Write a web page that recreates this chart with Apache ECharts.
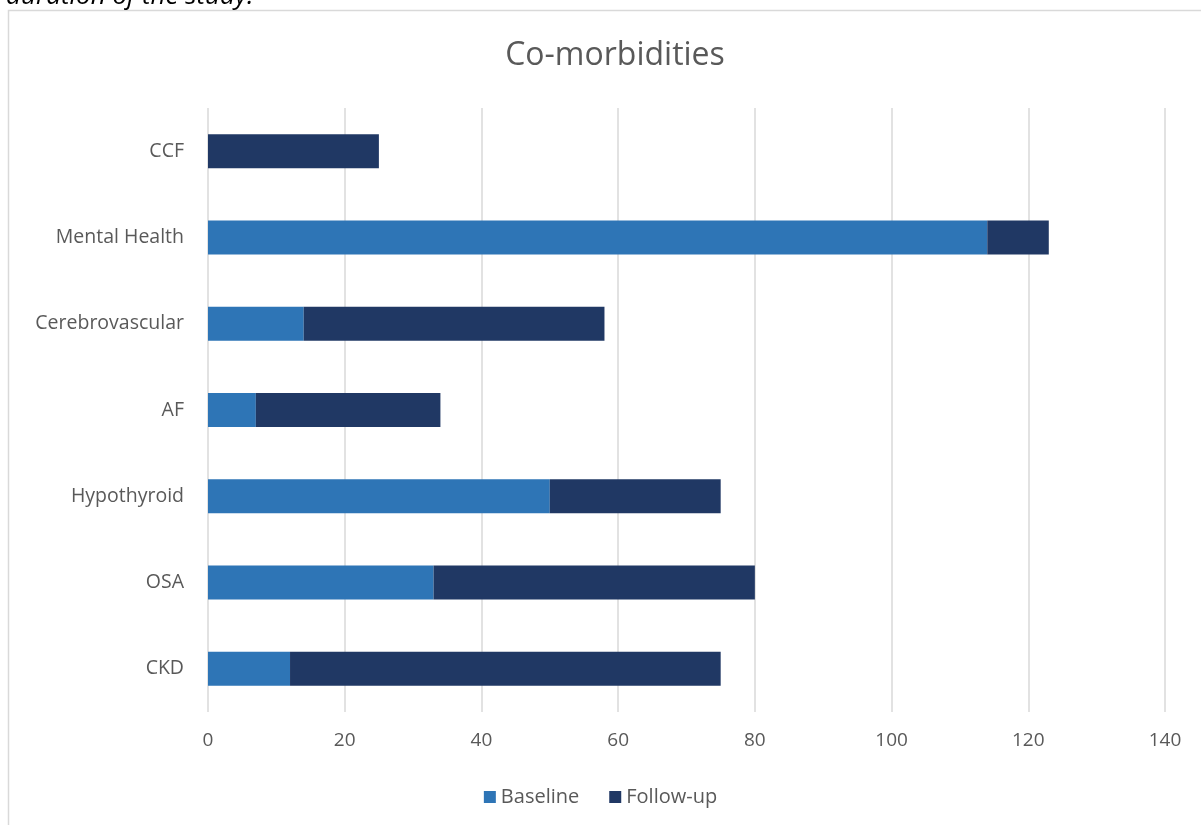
<!DOCTYPE html>
<html>
<head>
<meta charset="utf-8">
<script src="https://cdn.jsdelivr.net/npm/echarts@6/dist/echarts.min.js"></script>
<style>
  html, body { margin: 0; padding: 0; background: #ffffff; }
  #chart { width: 1201px; height: 825px; }
</style>
</head>
<body>
<div id="chart"></div>
<script>
// Co-morbidity counts, listed top to bottom
const categories = ['CCF', 'Mental Health', 'Cerebrovascular', 'AF', 'Hypothyroid', 'OSA', 'CKD'];
const baseline = [0, 114, 14, 7, 50, 33, 12];
const followUp = [25, 9, 44, 27, 25, 47, 63];
const xTicks = [0, 20, 40, 60, 80, 100, 120, 140];

const textColor = '#595959';
const fontFamily = '"Open Sans", "Liberation Sans", sans-serif';

const chart = echarts.init(document.getElementById('chart'));
chart.setOption({
  animation: false,
  backgroundColor: '#ffffff',
  title: {
    text: 'Co-morbidities',
    left: 610,
    top: 35,
    textAlign: 'center',
    textStyle: { color: textColor, fontSize: 32, fontWeight: 'normal', fontFamily: fontFamily }
  },
  graphic: [
    {
      type: 'rect',
      shape: { x: 8.5, y: 10.5, width: 1210, height: 830 },
      style: { fill: 'none', stroke: '#d9d9d9', lineWidth: 1.5 },
      silent: true
    },
    {
      type: 'text',
      left: 6,
      top: -16,
      style: { text: 'duration of the study.', fill: '#000000', font: 'italic 26px "Open Sans", sans-serif' },
      silent: true
    }
  ],
  legend: {
    bottom: 13,
    left: 'center',
    itemWidth: 12,
    itemHeight: 12,
    itemGap: 30,
    icon: 'rect',
    textStyle: { color: textColor, fontSize: 20, fontFamily: fontFamily },
    data: ['Baseline', 'Follow-up']
  },
  grid: { left: 208, right: 36, top: 108, bottom: 113 },
  xAxis: {
    type: 'value',
    min: xTicks[0],
    max: xTicks[xTicks.length - 1],
    interval: xTicks[1] - xTicks[0],
    axisLine: { show: false },
    axisTick: { show: false },
    axisLabel: { color: textColor, fontSize: 19, fontFamily: fontFamily, margin: 19 },
    splitLine: { lineStyle: { color: '#d9d9d9', width: 1.5 } }
  },
  yAxis: {
    type: 'category',
    inverse: true,
    data: categories,
    axisLine: { show: false },
    axisTick: { show: false },
    axisLabel: { color: textColor, fontSize: 19.5, fontFamily: fontFamily, margin: 24 }
  },
  series: [
    {
      name: 'Baseline',
      type: 'bar',
      stack: 'total',
      data: baseline,
      barWidth: 34,
      itemStyle: { color: '#2e75b6' }
    },
    {
      name: 'Follow-up',
      type: 'bar',
      stack: 'total',
      data: followUp,
      barWidth: 34,
      itemStyle: { color: '#203864' }
    }
  ]
});
</script>
</body>
</html>
